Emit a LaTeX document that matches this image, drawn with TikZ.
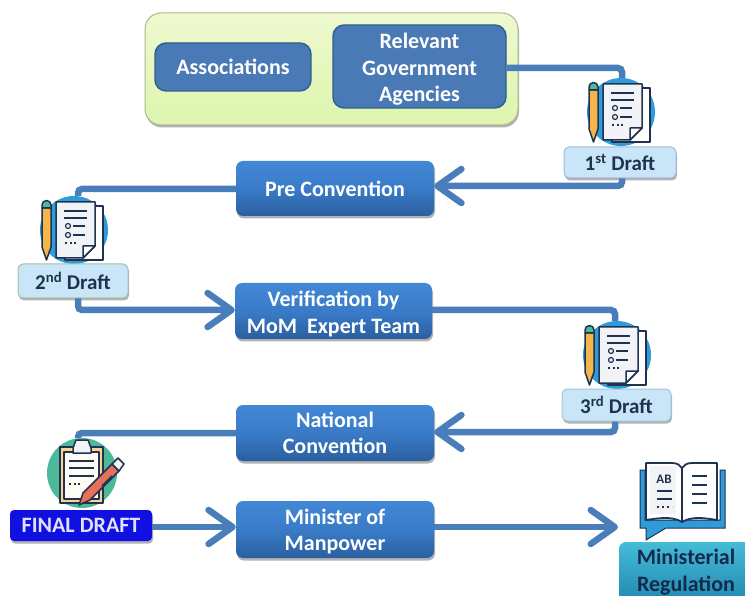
\documentclass[tikz,border=0pt]{standalone}
\usepackage{fontspec}
\setmainfont{Carlito}
\usetikzlibrary{arrows.meta,shadows}
\definecolor{conn}{HTML}{4A7EBB}
\definecolor{ink}{HTML}{1F3350}
\definecolor{iconblue}{HTML}{2F9BD8}
\definecolor{teal}{HTML}{4DB89A}
\definecolor{pencil}{HTML}{F4B54A}
\definecolor{sheet}{HTML}{F1F3F6}
\definecolor{boxtop}{HTML}{4288D6}
\definecolor{boxmid}{HTML}{3A7BC8}
\definecolor{boxbot}{HTML}{2A5F9F}
\definecolor{flatblue}{HTML}{4A7AB5}
\definecolor{flatedge}{HTML}{2F5F8F}
\definecolor{grouptop}{HTML}{EEF9CF}
\definecolor{groupbot}{HTML}{DDF5AE}
\definecolor{groupedge}{HTML}{AAB890}
\definecolor{draftfill}{HTML}{C9E6F8}
\definecolor{edgeA}{HTML}{A9B5DC}
\definecolor{edgeB}{HTML}{A4C0A4}
\definecolor{edgeC}{HTML}{A4C4D4}
\definecolor{finalblue}{HTML}{1010E0}
\definecolor{regtop}{HTML}{45BCD8}
\definecolor{regbot}{HTML}{2188B0}
\definecolor{penred}{HTML}{E8705A}
\definecolor{regtext}{HTML}{142A4C}
\newcommand{\lift}[1]{\rule{0pt}{#1}}
\tikzset{
 x=1pt,y=-1pt,
 shade1/.style={drop shadow={shadow xshift=1pt,shadow yshift=-2.5pt,opacity=.3,fill=black}},
 procbox/.style={shade1,draw=none,rounded corners=7pt,top color=boxtop,bottom color=boxbot,middle color=boxmid,
   font=\fontsize{22}{26.5}\selectfont\bfseries,text=white,align=center,inner sep=0pt},
 flatbox/.style={draw=flatedge,line width=1.4pt,rounded corners=11pt,fill=flatblue,
   font=\fontsize{22}{26.5}\selectfont\bfseries,text=white,align=center,inner sep=0pt},
 groupbox/.style={shade1,draw=groupedge,line width=1pt,rounded corners=16pt,top color=grouptop,bottom color=groupbot,inner sep=0pt},
 draftbox/.style={shade1,draw=#1,line width=1pt,rounded corners=5pt,fill=draftfill,font=\fontsize{21}{25}\selectfont\bfseries,
   text=ink,inner sep=0pt},
 conn/.style={draw=conn,line width=6.5pt,rounded corners=4pt},
 connarrow/.style={conn,-{Straight Barb[length=24pt,width=34pt,line width=6.5pt,round]}},
 badge/.style={circle,inner sep=0pt,minimum size=#1,draw=none},
 iconline/.style={draw=ink,line width=1.5pt},
 outl/.style={draw=ink,line width=1.5pt,line join=round}
}
\newcommand{\docicon}[2]{%
 \begin{scope}[shift={(#1,#2)}]
  \path[outl,fill=white] (-9,-24) -- (29,-24) -- (29,30) -- (-9,30) -- cycle;
  \path[outl,fill=sheet] (-18,-28) -- (21,-28) -- (21,16) -- (9,28) -- (-18,28) -- cycle;
  \path[outl,fill=white] (9,28) -- (9,16) -- (21,16) -- cycle;
  \draw[iconline] (-10,-19) -- (13,-19) (-10,-12) -- (13,-12) (-1,-4) -- (11,-4) (-1,5) -- (11,5);
  \draw[iconline,line width=1.2pt] (-6,-4) circle (2.5) (-6,5) circle (2.5);
  \draw[iconline,dash pattern=on 2pt off 2.5pt] (-9,13) -- (3,13);
  \path[outl,fill=pencil] (-32,-22) -- (-23,-22) -- (-23,17) -- (-27.5,30) -- (-32,17) -- cycle;
  \path[outl,fill=teal] (-32,-22) -- (-32,-25) arc[start angle=180,end angle=360,radius=4.5] -- (-23,-22) -- cycle;
 \end{scope}}
\begin{document}
\begin{tikzpicture}
\useasboundingbox (0,0) rectangle (745,596);
% group
\node[groupbox,minimum width=373pt,minimum height=112pt] (group) at (331.5,69) {};
% connector ends
\coordinate (c1) at (622,68);
\coordinate (c2) at (622,186);
\coordinate (c3) at (78,189);
\coordinate (c4) at (78,310);
\coordinate (c5) at (615,310);
\coordinate (c6) at (615,432);
\coordinate (c7) at (78,433);
\coordinate (book) at (618,527);
% boxes
\node[flatbox,minimum width=156pt,minimum height=48pt] (assoc) at (233,67) {Associations};
\node[flatbox,minimum width=173pt,minimum height=83pt] (agencies) at (419.5,66.5) {\lift{21pt}Relevant\\Government\\Agencies};
\node[procbox,minimum width=198pt,minimum height=55pt] (pre) at (335,188.5) {Pre Convention};
\node[procbox,minimum width=197pt,minimum height=56pt] (verif) at (333.5,311) {\lift{21pt}Verification by\\MoM~ Expert Team};
\node[procbox,minimum width=198pt,minimum height=56pt] (natl) at (335,433) {National\\Convention};
\node[procbox,minimum width=198pt,minimum height=57pt] (minister) at (335,529.5) {\lift{19pt}Minister of\\Manpower};
% badges
\node[badge=68pt,fill=iconblue] (icon1) at (621,112) {};
\node[badge=68pt,fill=iconblue] (icon2) at (74,230) {};
\node[badge=68pt,fill=iconblue] (icon3) at (617,355) {};
\node[badge=70pt,fill=teal] (icon4) at (82,473) {};
% draft and end nodes
\node[draftbox=edgeA,minimum width=112pt,minimum height=31pt] (d1) at (620,162.5) {1\textsuperscript{st} Draft};
\node[draftbox=edgeB,minimum width=110pt,minimum height=34pt] (d2) at (73,281) {2\textsuperscript{nd} Draft};
\node[draftbox=edgeC,minimum width=109pt,minimum height=32pt] (d3) at (616.5,405) {3\textsuperscript{rd} Draft};
\node[shade1,rounded corners=4pt,fill=finalblue,minimum width=142pt,minimum height=31pt,inner sep=0pt,
  text=white!88!blue,font=\fontsize{22}{26}\selectfont\bfseries] (final) at (81,525.5) {FINAL DRAFT};
\node[rounded corners=7pt,top color=regtop,bottom color=regbot,minimum width=134pt,minimum height=60pt,inner sep=0pt,
  align=center,text=regtext,font=\fontsize{22}{26.5}\selectfont\bfseries] (reg) at (686,572) {Ministerial\\Regulation};
% connectors
\draw[conn] (agencies.east |- c1) -- (c1) -- (icon1.north -| c1);
\draw[connarrow] (d1.south -| c2) -- (c2) -- (pre.east |- c2);
\draw[conn] (pre.west |- c3) -- (c3) -- (icon2.north -| c3);
\draw[connarrow] (d2.south -| c4) -- (c4) -- (verif.west |- c4);
\draw[conn] (verif.east |- c5) -- (c5) -- (icon3.north -| c5);
\draw[connarrow] (d3.south -| c6) -- (c6) -- (natl.east |- c6);
\draw[conn] (natl.west |- c7) -- (c7) -- (icon4.north -| c7);
\draw[connarrow] (final.east |- book) -- (minister.west |- book);
\draw[connarrow] (minister.east |- book) -- (book);
% icons
\docicon{621}{112}
\docicon{74}{230}
\docicon{617}{355}
% clipboard
\begin{scope}[shift={(82,473)}]
 \path[outl,fill=pencil!60!white] (-22,-26) -- (21,-26) -- (21,30) -- (-22,30) -- cycle;
 \path[outl,fill=white!94!pencil] (-18,-21) -- (17,-21) -- (17,26) -- (-18,26) -- cycle;
 \path[outl,fill=sheet] (-9,-25) -- (-6,-33) -- (6,-33) -- (9,-25) -- (9,-20) -- (-9,-20) -- cycle;
 \draw[iconline,line width=1.8pt] (-13,-12) -- (12,-12) (-13,-5) -- (12,-5) (-13,3) -- (12,3);
 \draw[iconline,dash pattern=on 2pt off 2.5pt] (-13,11) -- (-1,11);
 \path[outl,fill=penred] (-3,32) -- (1,20) -- (30,-9) -- (37,-2) -- (8,27) -- cycle;
 \path[outl,fill=sheet] (30,-9) -- (36,-15) -- (42,-9) -- (37,-2) -- cycle;
 \draw[iconline] (30,3) -- (20,13);
\end{scope}
% book
\path[fill=iconblue,draw=ink,line width=1pt] (640,470) -- (645,470) -- (645,520) -- (720,520) -- (720,470) -- (725,470) -- (725,528) -- (666,528) -- (646,540) -- (646,528) -- (640,528) -- cycle;
\path[outl,fill=white,line width=1.8pt] (682,522) .. controls (672,516) and (660,518) .. (646,520) -- (646,463) -- (672,463) .. controls (677,463) and (680,465) .. (682,468) -- cycle;
\path[outl,fill=white,line width=1.8pt] (682,522) .. controls (692,516) and (704,518) .. (717,520) -- (717,463) -- (692,463) .. controls (687,463) and (684,465) .. (682,468) -- cycle;
\path[fill=sheet] (650,466) rectangle (676,514);
\node[font=\fontsize{13}{14}\selectfont\bfseries,text=ink,inner sep=0pt] (ab) at (664,479) {AB};
\draw[iconline,line width=1.8pt] (657,491) -- (672,491) (657,499) -- (672,499) (692,476) -- (707,476) (692,485) -- (707,485) (692,494) -- (707,494) (692,503) -- (707,503);
\draw[iconline,line width=1.8pt,dash pattern=on 2pt off 3pt] (657,507) -- (672,507);
\end{tikzpicture}
\end{document}
